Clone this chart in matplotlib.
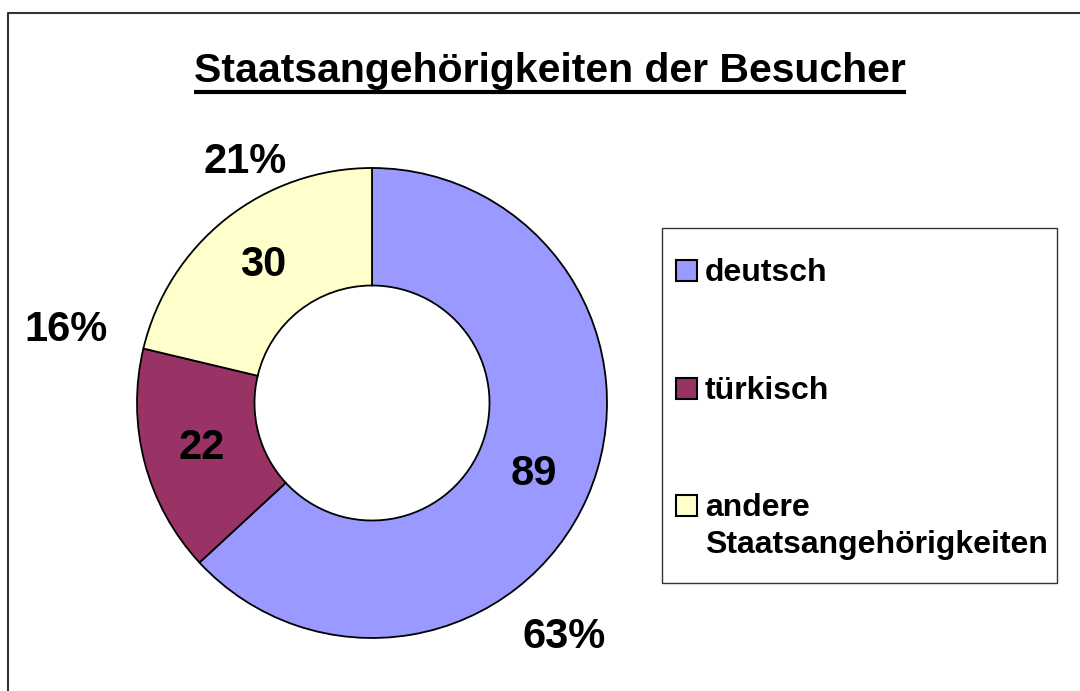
import matplotlib
matplotlib.use("Agg")
import matplotlib.pyplot as plt
from matplotlib.patches import Rectangle
from matplotlib.lines import Line2D
import numpy as np

# ---- data ----
categories = ["deutsch", "türkisch", "andere\nStaatsangehörigkeiten"]
values = [89, 22, 30]
colors = ["#9999FF", "#993366", "#FFFFCC"]
title = "Staatsangehörigkeiten der Besucher"

plt.rcParams['font.family'] = ['Liberation Sans', 'DejaVu Sans']
W, H = 1080, 691
fig = plt.figure(figsize=(W / 100, H / 100), dpi=100)
fig.patch.set_facecolor('white')


def fx(x):
    return x / W


def fy(y):
    return 1 - y / H


# ---- donut ----
cx, cy, R = 372, 403, 235
ax = fig.add_axes([(cx - R) / W, 1 - (cy + R) / H, 2 * R / W, 2 * R / H])
wedges, _ = ax.pie(values, colors=colors, startangle=90, counterclock=False, radius=1,
                   wedgeprops=dict(width=0.5, edgecolor='black', linewidth=1.3))
ax.set_xlim(-1, 1)
ax.set_ylim(-1, 1)
ax.set_aspect('equal')
ax.axis('off')

total = sum(values)
# value labels in the middle of each ring segment
for w, v in zip(wedges, values):
    ang = np.deg2rad((w.theta1 + w.theta2) / 2)
    ax.text(0.75 * np.cos(ang), 0.75 * np.sin(ang), str(v), ha='center', va='center',
            fontsize=30, fontweight='bold', clip_on=False)

# percentage labels outside (radius, angle in degrees)
pct_pos = [(1.29, -50.6), (1.34, 166.6), (1.16, 117.8)]
for (r, a), v in zip(pct_pos, values):
    ang = np.deg2rad(a)
    ax.text(r * np.cos(ang), r * np.sin(ang), f"{round(v / total * 100)}%", ha='center',
            va='center', fontsize=30, fontweight='bold', clip_on=False)

# ---- title with underline ----
t = fig.text(fx(550), fy(82), title, ha='center', va='baseline', fontsize=29.5,
             fontweight='bold')
fig.canvas.draw()
bb = t.get_window_extent(fig.canvas.get_renderer())
fig.add_artist(Line2D([bb.x0 / W, bb.x1 / W], [fy(92), fy(92)], color='black',
                      linewidth=3, solid_capstyle='butt'))

# ---- legend ----
fig.add_artist(Rectangle((fx(662), fy(583)), (1057 - 662) / W, (583 - 228) / H,
                         facecolor='white', edgecolor='#333333', linewidth=1.0))
baselines = [281, 399, 516]
for lab, col, b in zip(categories, colors, baselines):
    fig.add_artist(Rectangle((fx(676), fy(b)), 21 / W, 21 / H, facecolor=col,
                             edgecolor='black', linewidth=1.5))
    for i, line in enumerate(lab.split("\n")):
        fig.text(fx(705), fy(b + 37 * i), line, ha='left', va='baseline', fontsize=23,
                 fontweight='bold')

# ---- outer frame ----
fig.add_artist(Line2D([fx(8), fx(8), fx(1080)], [fy(691), fy(12.5), fy(12.5)],
                      color='#333333', linewidth=1.5))

fig.savefig("out.png", dpi=100, facecolor='white')
